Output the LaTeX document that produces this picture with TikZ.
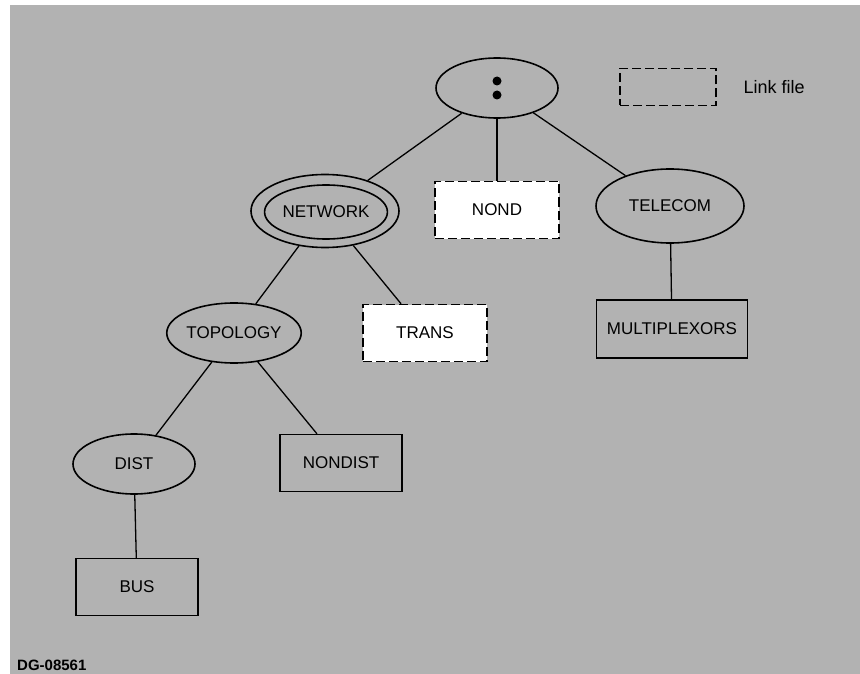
\documentclass[tikz,border=0pt]{standalone}
\usepackage{fontspec}
\setmainfont{Liberation Sans}
\usetikzlibrary{shapes.geometric}
\definecolor{screen}{HTML}{B2B2B2}
\begin{document}
\begin{tikzpicture}[x=1pt,y=-1pt,
  every node/.style={font=\fontsize{17}{17}\selectfont},
  dirnode/.style={ellipse,draw=black,line width=1.6pt,fill=screen,inner sep=0pt,
    minimum width=122pt,minimum height=60pt},
  filenode/.style={rectangle,draw=black,line width=1.4pt,fill=screen,inner sep=0pt,
    minimum width=122pt,minimum height=57pt},
  linknode/.style={rectangle,draw=black,line width=1.4pt,dash pattern=on 9pt off 4pt,
    fill=white,inner sep=0pt,minimum width=124pt,minimum height=57pt},
  colondot/.style={circle,fill=black,inner sep=0pt,minimum size=9pt},
  edge/.style={draw=black,line width=1.3pt}]
  % page and halftone background
  \useasboundingbox (0,0) rectangle (860,674);
  \fill[white] (0,0) rectangle (860,674);
  \fill[screen] (10,5) rectangle (860,674);

  % root directory, shown as a colon
  \node[dirnode] (root) at (497,88) {};
  \node[colondot] (dotup) at (497,81) {};
  \node[colondot] (dotdown) at (497,95) {};

  % legend
  \node[linknode,fill=screen,minimum width=96pt,minimum height=37pt] (legend) at (668,87) {};
  \node[anchor=west,font=\fontsize{18}{18}\selectfont] (legendtxt) at (740,87) {Link file};

  % first level
  \node[dirnode,minimum width=148pt,minimum height=73pt] (net) at (325,211) {};
  \node[ellipse,draw=black,line width=1.6pt,inner sep=0pt,minimum width=112pt,
    minimum height=54pt] (netin) at (326,212) {NETWORK};
  \node[linknode] (nond) at (497,210) {NOND};
  \node[dirnode,minimum width=148pt,minimum height=74pt] (tel) at (670,206) {TELECOM};

  % second level
  \node[dirnode] (topo) at (234,333) {TOPOLOGY};
  \node[linknode] (trans) at (425,333) {TRANS};
  \node[filenode,minimum width=151pt,minimum height=58pt] (mux) at (672,329) {MULTIPLEXORS};

  % third level
  \node[dirnode] (dist) at (134,464) {DIST};
  \node[filenode] (nondist) at (341,463) {NONDIST};
  \node[filenode] (bus) at (137,587) {BUS};

  % drawing number
  \node[anchor=base west,font=\fontsize{15}{15}\selectfont\bfseries,inner sep=0pt]
    (dgnum) at (17,670) {DG-08561};

  % tree connectors
  \draw[edge] (root) -- (net);
  \draw[edge] (root) -- (nond);
  \draw[edge] (root) -- (tel);
  \draw[edge] (net) -- (topo);
  \draw[edge] (net) -- (trans);
  \draw[edge] (tel) -- (mux);
  \draw[edge] (topo) -- (dist);
  \draw[edge] (topo) -- (nondist);
  \draw[edge] (dist) -- (bus);
\end{tikzpicture}
\end{document}
